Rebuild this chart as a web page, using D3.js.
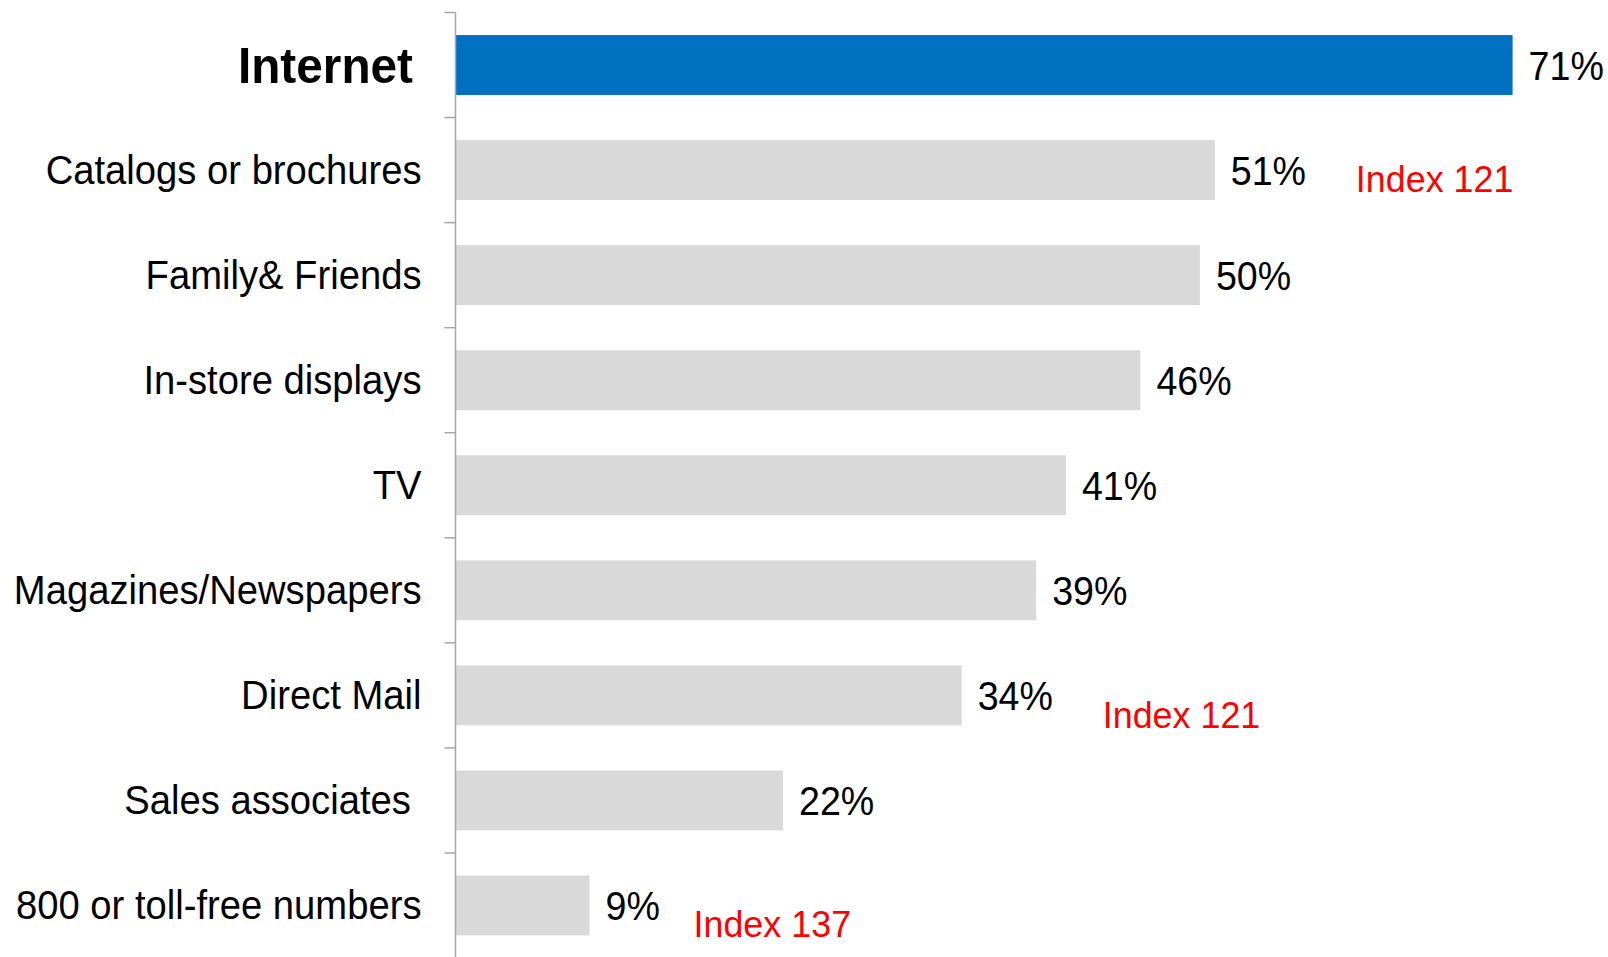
<!DOCTYPE html>
<html>
<head>
<meta charset="utf-8">
<script src="https://cdn.jsdelivr.net/npm/d3@7/dist/d3.min.js"></script>
<style>
  html, body { margin: 0; padding: 0; background: #fff; }
  svg { display: block; }
  text { font-family: "Liberation Sans", Arial, sans-serif; white-space: pre; }
</style>
</head>
<body>
<svg id="chart" width="1608" height="957"></svg>
<script>
// Where shoppers get product information (share of respondents)
const categories = [
  "Internet",
  "Catalogs or brochures",
  "Family& Friends",
  "In-store displays",
  "TV",
  "Magazines/Newspapers",
  "Direct Mail",
  "Sales associates ",
  "800 or toll-free numbers"
];
const values = [71, 51, 50, 46, 41, 39, 34, 22, 9];
const highlighted = ["Internet"];

// Red index call-outs next to selected bars
const indexCategories = ["Catalogs or brochures", "Direct Mail", "800 or toll-free numbers"];
const indexLabels = ["Index 121", "Index 121", "Index 137"];

const svg = d3.select("#chart");
const axisX = 455.5;
const xScale = d3.scaleLinear().domain([0, 71]).range([axisX, 1512.6]);
const yScale = d3.scaleBand()
  .domain(categories)
  .range([12.5, 958])
  .paddingInner(0.43)
  .paddingOuter(0.215);

const step = yScale.step();
const gap = step * yScale.paddingInner();

const data = categories.map((c, i) => ({ cat: c, value: values[i] }));

// Bars
svg.append("g").selectAll("rect")
  .data(data)
  .join("rect")
  .attr("x", axisX)
  .attr("y", d => yScale(d.cat))
  .attr("width", d => xScale(d.value) - axisX)
  .attr("height", yScale.bandwidth())
  .attr("fill", d => highlighted.includes(d.cat) ? "#0070C0" : "#D9D9D9");

// Category axis: line with ticks on band boundaries
const axisG = svg.append("g").attr("stroke", "#A6A6A6").attr("stroke-width", 1.5);
axisG.append("line")
  .attr("x1", axisX).attr("x2", axisX)
  .attr("y1", yScale.range()[0]).attr("y2", yScale.range()[1]);
const boundaries = categories.map(c => yScale(c) - gap / 2);
axisG.selectAll("line.tick")
  .data(boundaries)
  .join("line")
  .attr("class", "tick")
  .attr("x1", axisX - 11).attr("x2", axisX)
  .attr("y1", d => d).attr("y2", d => d);

// Lettering is slightly condensed horizontally
function squeezedText(sel, k) {
  return sel.attr("transform", d => `translate(${d.tx},${d.ty}) scale(${k},1)`);
}

// Category labels
svg.append("g").selectAll("text")
  .data(data.map(d => {
    const bold = highlighted.includes(d.cat);
    return { ...d, bold,
      tx: bold ? 413 : 421.5,
      ty: yScale(d.cat) + yScale.bandwidth() / 2 + (bold ? 17.5 : 14) };
  }))
  .join("text")
  .call(squeezedText, 0.955)
  .attr("text-anchor", "end")
  .attr("font-size", d => d.bold ? 50 : 40)
  .attr("font-weight", d => d.bold ? "bold" : "normal")
  .attr("fill", "#000")
  .text(d => d.cat);

// Value labels
svg.append("g").selectAll("text")
  .data(data.map(d => ({ ...d,
    tx: xScale(d.value) + 16,
    ty: yScale(d.cat) + yScale.bandwidth() / 2 + 15 })))
  .join("text")
  .call(squeezedText, 0.94)
  .attr("font-size", 40)
  .attr("fill", "#000")
  .text(d => d.value + "%");

// Index call-outs
const indexOffsets = [141, 141, 104];
const indexDrop = [22, 33, 32];
svg.append("g").selectAll("text")
  .data(indexCategories.map((c, i) => {
    const v = values[categories.indexOf(c)];
    return { label: indexLabels[i],
      tx: xScale(v) + indexOffsets[i],
      ty: yScale(c) + yScale.bandwidth() / 2 + indexDrop[i] };
  }))
  .join("text")
  .call(squeezedText, 0.97)
  .attr("font-size", 37)
  .attr("fill", "#FF0000")
  .text(d => d.label);
</script>
</body>
</html>
